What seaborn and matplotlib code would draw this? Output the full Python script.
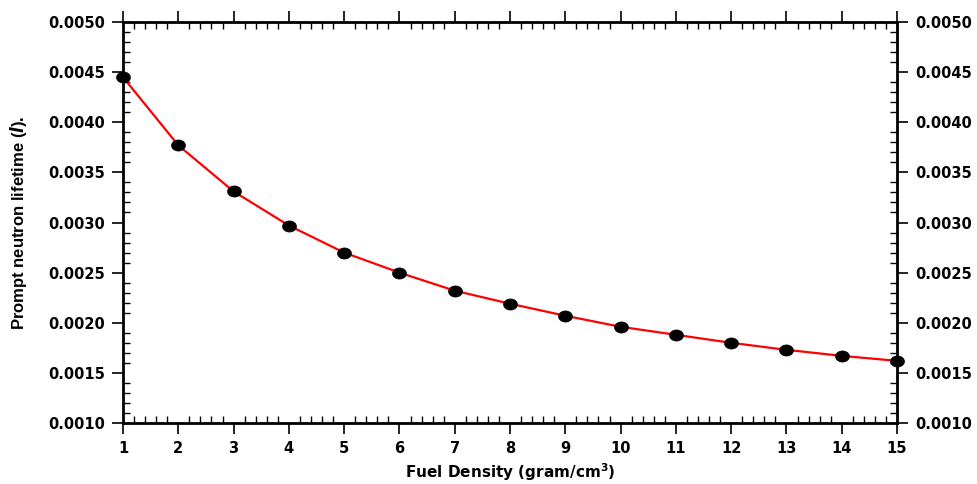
import numpy as np
import pandas as pd
import seaborn as sns
import matplotlib.pyplot as plt
from matplotlib.ticker import MultipleLocator, FormatStrFormatter

# values
density = [1, 2, 3, 4, 5, 6, 7, 8, 9, 10, 11, 12, 13, 14, 15]
lifetime = [0.00445, 0.00377, 0.00331, 0.00297, 0.00270, 0.00250, 0.00232,
            0.00219, 0.00207, 0.00196, 0.00188, 0.00180, 0.00173, 0.00167, 0.00162]

df = pd.DataFrame({'density': density, 'lifetime': lifetime})

sns.set_style('ticks')
plt.rcParams['font.family'] = ['DejaVu Sans']
plt.rcParams['font.weight'] = 'bold'
plt.rcParams['text.color'] = 'black'
plt.rcParams['axes.labelcolor'] = 'black'
plt.rcParams['xtick.color'] = 'black'
plt.rcParams['ytick.color'] = 'black'
plt.rcParams['mathtext.fontset'] = 'custom'
plt.rcParams['mathtext.it'] = 'DejaVu Sans:bold:italic'
plt.rcParams['mathtext.rm'] = 'DejaVu Sans:bold'

fig = plt.figure(figsize=(9.78, 4.84), dpi=100)
ax = fig.add_axes([0.1258, 0.126, 0.7914, 0.8285])

# slightly flattened dot, like the reference markers
t = np.linspace(0, 2 * np.pi, 40)
dot = np.c_[np.cos(t), 0.8 * np.sin(t)]

sns.lineplot(data=df, x='density', y='lifetime', color='red', linewidth=1.6, ax=ax, zorder=2)
sns.scatterplot(data=df, x='density', y='lifetime', color='black', s=100,
                marker=dot, edgecolor='black', linewidth=0.5, ax=ax, zorder=3, clip_on=False)

ax.set_xlim(1, 15)
ax.set_ylim(0.0010, 0.0050)
ax.xaxis.set_major_locator(MultipleLocator(1))
ax.xaxis.set_minor_locator(MultipleLocator(0.2))
ax.yaxis.set_major_locator(MultipleLocator(0.0005))
ax.yaxis.set_minor_locator(MultipleLocator(0.0001))
ax.yaxis.set_major_formatter(FormatStrFormatter('%.4f'))

for s in ax.spines.values():
    s.set_linewidth(2)
    s.set_color('black')

ax.tick_params(which='major', direction='out', length=8, width=1.2,
               top=True, right=True, labelright=True, labelsize=10.5, pad=5,
               labelcolor='black')
ax.tick_params(which='minor', direction='in', length=5, width=1,
               top=True, right=True)
for lab in ax.get_xticklabels() + ax.get_yticklabels():
    lab.set_fontweight('bold')

ax.set_xlabel('Fuel Density (gram/cm$^3$)', fontsize=11, fontweight='bold', labelpad=4,
              color='black')
ax.set_ylabel('Prompt neutron lifetime ($\\it{l}$).', fontsize=12, fontweight='bold',
              family=['Liberation Sans Narrow', 'Liberation Sans'], labelpad=14,
              color='black')

fig.savefig('out.png', dpi=100)
